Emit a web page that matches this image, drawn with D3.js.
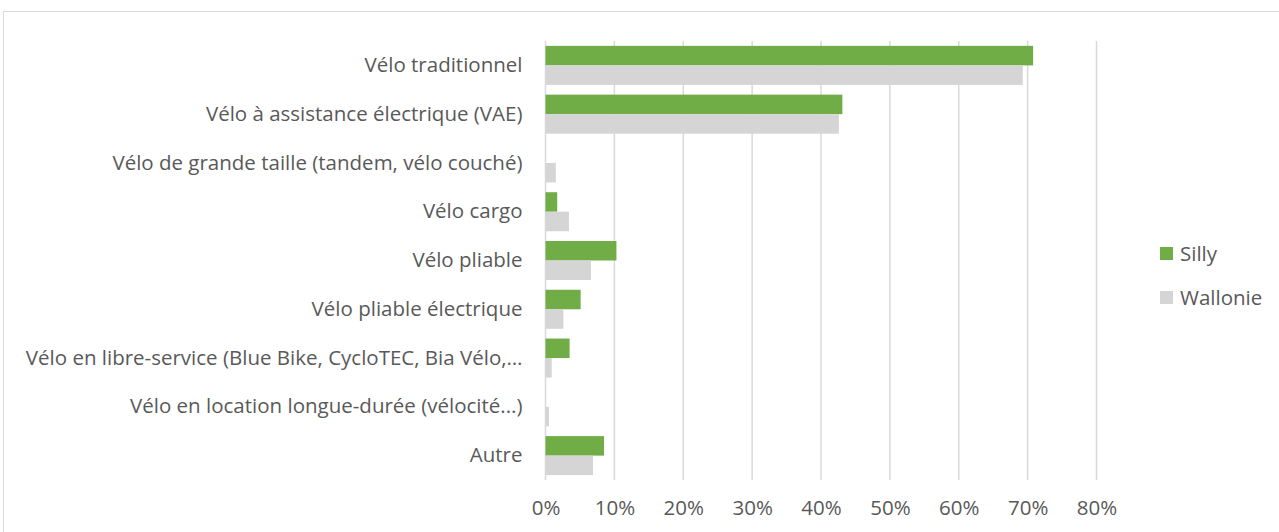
<!DOCTYPE html>
<html>
<head>
<meta charset="utf-8">
<script src="https://cdn.jsdelivr.net/npm/d3@7"></script>
<style>
  body { margin: 0; background: #fff; }
  svg { font-family: "Open Sans", sans-serif; }
</style>
</head>
<body>
<div id="chart"></div>
<script>
const categories = [
  "Vélo traditionnel",
  "Vélo à assistance électrique (VAE)",
  "Vélo de grande taille (tandem, vélo couché)",
  "Vélo cargo",
  "Vélo pliable",
  "Vélo pliable électrique",
  "Vélo en libre-service (Blue Bike, CycloTEC, Bia Vélo,…",
  "Vélo en location longue-durée (vélocité...)",
  "Autre"
];
const series = ["Silly", "Wallonie"];
const sillyValues = [70.8, 43.1, 0, 1.7, 10.3, 5.1, 3.5, 0, 8.5];
const wallonieValues = [69.3, 42.6, 1.5, 3.4, 6.6, 2.6, 0.9, 0.5, 6.9];
const xTicks = [0, 10, 20, 30, 40, 50, 60, 70, 80];

const colors = { Silly: "#70ad47", Wallonie: "#d6d5d5" };

const width = 1279, height = 532;
const margin = { top: 41, left: 545.5, right: 182.5, bottom: 52 };
const innerW = width - margin.left - margin.right;
const innerH = height - margin.top - margin.bottom;
const fontStack = "'Open Sans', sans-serif";
const fontSize = "20.5px";

const svg = d3.select("#chart").append("svg")
  .attr("width", width)
  .attr("height", height);

// outer frame
svg.append("rect")
  .attr("x", 3.5).attr("y", 11.5)
  .attr("width", width).attr("height", height)
  .attr("fill", "none")
  .attr("stroke", "#d9d9d9")
  .attr("stroke-width", 1);

const chart = svg.append("g")
  .attr("transform", `translate(${margin.left},${margin.top})`);

const xScale = d3.scaleLinear().domain([0, 80]).range([0, innerW]);
const yScale = d3.scaleBand().domain(categories).range([0, innerH]).paddingInner(0.2).paddingOuter(0.1);
const subScale = d3.scaleBand().domain(series).range([0, yScale.bandwidth()]);

// gridlines
chart.append("g")
  .selectAll("line")
  .data(xTicks)
  .join("line")
  .attr("x1", d => xScale(d)).attr("x2", d => xScale(d))
  .attr("y1", 0).attr("y2", innerH)
  .attr("stroke", "#d9d9d9")
  .attr("stroke-width", 1.5);

const rows = categories.map((c, i) => ({ category: c, Silly: sillyValues[i], Wallonie: wallonieValues[i] }));

chart.append("g")
  .selectAll("g")
  .data(rows)
  .join("g")
  .attr("transform", d => `translate(0,${yScale(d.category)})`)
  .selectAll("rect")
  .data(d => series.map(s => ({ key: s, value: d[s] })))
  .join("rect")
  .attr("x", xScale(0))
  .attr("y", d => subScale(d.key))
  .attr("width", d => xScale(d.value) - xScale(0))
  .attr("height", subScale.bandwidth())
  .attr("fill", d => colors[d.key]);

// x axis labels
const xAxis = d3.axisBottom(xScale)
  .tickValues(xTicks)
  .tickSize(0)
  .tickPadding(20)
  .tickFormat(d => d + "%");

chart.append("g")
  .attr("class", "x-axis")
  .attr("transform", `translate(0,${innerH})`)
  .call(xAxis)
  .call(g => g.select(".domain").remove())
  .selectAll("text")
  .style("font-size", fontSize)
  .style("font-family", fontStack)
  .attr("fill", "#595959");

// y axis labels
const yAxis = d3.axisLeft(yScale).tickSize(0).tickPadding(23);
chart.append("g")
  .attr("class", "y-axis")
  .call(yAxis)
  .call(g => g.select(".domain").remove())
  .selectAll("text")
  .style("font-size", fontSize)
  .style("font-family", fontStack)
  .attr("fill", "#595959");

// legend
const legend = svg.append("g")
  .attr("transform", "translate(1160,247)");

const legendItem = legend.selectAll("g")
  .data(series)
  .join("g")
  .attr("transform", (d, i) => `translate(0,${i * 44})`);

legendItem.append("rect")
  .attr("width", 13).attr("height", 13)
  .attr("fill", d => colors[d]);

legendItem.append("text")
  .attr("x", 20).attr("y", 7)
  .attr("dy", "0.35em")
  .style("font-size", fontSize)
  .style("font-family", fontStack)
  .attr("fill", "#595959")
  .text(d => d);
</script>
</body>
</html>
